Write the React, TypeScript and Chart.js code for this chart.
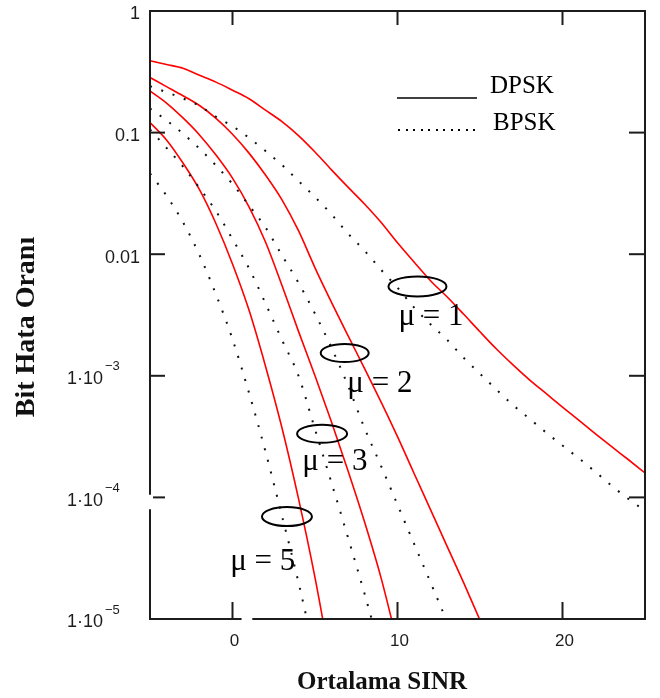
import React, { useEffect, useRef } from "react";
import { Chart, registerables } from "chart.js";

Chart.register(...registerables);

// ---- data ----
const sinr = [-5, -4, -3, -2, -1, 0, 1, 2, 3, 4, 5, 6, 7, 8, 9, 10, 11, 12, 13, 14, 15, 16, 17, 18, 19, 20, 21, 22, 23, 24, 25];

const dpskMu1 = [0.390, 0.363, 0.338, 0.296, 0.260, 0.223, 0.190, 0.153, 0.123, 0.0944, 0.0692, 0.0494, 0.0356, 0.0259, 0.0183, 0.0124, 8.63e-3, 6.05e-3, 4.47e-3, 3.22e-3, 2.30e-3, 1.66e-3, 1.23e-3, 9.27e-4, 7.16e-4, 5.53e-4, 4.29e-4, 3.33e-4, 2.60e-4, 2.04e-4, 1.59e-4];
const bpskMu1 = [0.241, 0.215, 0.191, 0.166, 0.135, 0.113, 0.0906, 0.0706, 0.0542, 0.0400, 0.0295, 0.0213, 0.0148, 0.0107, 7.45e-3, 5.30e-3, 3.65e-3, 2.65e-3, 1.98e-3, 1.41e-3, 1.04e-3, 7.69e-4, 5.75e-4, 4.44e-4, 3.42e-4, 2.67e-4, 2.09e-4, 1.62e-4, 1.24e-4, 9.70e-5, 7.76e-5];
const dpskMu2 = [0.284, 0.239, 0.201, 0.167, 0.131, 0.0970, 0.0678, 0.0448, 0.0280, 0.0156, 7.73e-3, 4.02e-3, 2.14e-3, 1.15e-3, 6.11e-4, 3.16e-4, 1.58e-4, 7.94e-5, 3.98e-5, 2.00e-5, 9.77e-6, 4.79e-6];
const bpskMu2 = [0.158, 0.126, 0.0980, 0.0738, 0.0536, 0.0378, 0.0252, 0.0166, 9.79e-3, 5.82e-3, 3.24e-3, 1.70e-3, 8.30e-4, 3.72e-4, 1.82e-4, 8.71e-5, 4.17e-5, 2.00e-5, 9.55e-6, 4.57e-6];
const dpskMu3 = [0.220, 0.175, 0.132, 0.0957, 0.0653, 0.0422, 0.0245, 0.0126, 5.53e-3, 2.32e-3, 1.00e-3, 4.17e-4, 1.66e-4, 6.31e-5, 2.19e-5, 6.31e-6];
const bpskMu3 = [0.106, 0.0750, 0.0526, 0.0350, 0.0226, 0.0133, 7.66e-3, 3.94e-3, 1.97e-3, 1.00e-3, 3.63e-4, 1.32e-4, 4.68e-5, 1.62e-5, 5.25e-6];
const dpskMu5 = [0.121, 0.0871, 0.0562, 0.0339, 0.0178, 8.32e-3, 3.47e-3, 1.20e-3, 3.72e-4, 9.77e-5, 2.19e-5, 3.98e-6];
const bpskMu5 = [0.0462, 0.0303, 0.0183, 9.84e-3, 4.66e-3, 2.00e-3, 7.24e-4, 2.38e-4, 7.03e-5, 2.00e-5, 5.01e-6];

const xTicks = [0, 10, 20];
const xTickLabels = ["0", "10", "20"];
const yTicks = [1, 0.1, 0.01, 1e-3, 1e-4, 1e-5];
const yTickBase = ["1", "0.1", "0.01", "1·10", "1·10", "1·10"];
const yTickExp = ["", "", "", "−3", "−4", "−5"];

const xTitle = "Ortalama SINR";
const yTitle = "Bit Hata Oranı";
const legendLabels = ["DPSK", "BPSK"];

// μ annotations, anchored in data coordinates
const muLabels = ["μ = 1", "μ = 2", "μ = 3", "μ = 5"];
const muLabelX = [10.06, 6.96, 4.23, -0.14];
const muLabelY = [2.64e-3, 7.41e-4, 1.69e-4, 2.53e-5];
const muRingX = [11.21, 6.8, 5.43, 3.3];
const muRingY = [5.43e-3, 1.54e-3, 3.34e-4, 6.96e-5];

// Mathcad-style gaps in the axis lines
const xAxisBreak = [0.55, 1.2];
const yAxisBreak = [1.05e-4, 8.0e-5];

const toPoints = (vals: number[]) => vals.map((v, i) => ({ x: sinr[i], y: v }));

const RED = "#ff0000";
const DOT = "#111111";
const INK = "#1c1c1c";

const mathcadPlugin = {
  id: "mathcadFrame",
  afterDatasetsDraw(chart: any) {
    const { ctx, chartArea: a } = chart;
    const xs = chart.scales.x;
    const ys = chart.scales.y;
    const seg = (x1: number, y1: number, x2: number, y2: number) => {
      ctx.beginPath();
      ctx.moveTo(x1, y1);
      ctx.lineTo(x2, y2);
      ctx.stroke();
    };
    ctx.save();
    // frame
    ctx.strokeStyle = INK;
    ctx.lineWidth = 2;
    ctx.lineCap = "butt";
    seg(a.left - 1, a.top, a.right + 1, a.top);
    seg(a.right, a.top, a.right, a.bottom + 1);
    const gx0 = xs.getPixelForValue(xAxisBreak[0]);
    const gx1 = xs.getPixelForValue(xAxisBreak[1]);
    seg(a.left - 1, a.bottom, gx0, a.bottom);
    seg(gx1, a.bottom, a.right + 1, a.bottom);
    const gy0 = ys.getPixelForValue(yAxisBreak[0]);
    const gy1 = ys.getPixelForValue(yAxisBreak[1]);
    seg(a.left, a.top, a.left, gy0);
    seg(a.left, gy1, a.left, a.bottom);

    // ticks (inward)
    xTicks.forEach((v) => {
      const px = xs.getPixelForValue(v);
      seg(px, a.bottom, px, a.bottom - 17);
      seg(px, a.top, px, a.top + 14);
    });
    yTicks.forEach((v) => {
      if (v >= ys.max || v <= ys.min) return;
      const py = ys.getPixelForValue(v);
      const inBreak = py > gy0 - 4 && py < gy1 + 4;
      seg(a.left + (inBreak ? 3 : 0), py, a.left + 15, py);
      seg(a.right, py, a.right - 16, py);
    });

    // tick labels
    ctx.fillStyle = INK;
    ctx.textBaseline = "middle";
    ctx.font = '17px "Liberation Sans", Arial, sans-serif';
    ctx.textAlign = "center";
    xTicks.forEach((v, i) => {
      ctx.fillText(xTickLabels[i], xs.getPixelForValue(v) + 2, a.bottom + 22);
    });
    yTicks.forEach((v, i) => {
      const py = ys.getPixelForValue(v);
      ctx.font = '18px "Liberation Sans", Arial, sans-serif';
      ctx.textAlign = "right";
      if (!yTickExp[i]) {
        ctx.fillText(yTickBase[i], a.left - 10, py + 3.5);
      } else {
        ctx.fillText(yTickBase[i], a.left - 47, py + 3.5);
        ctx.font = '13px "Liberation Sans", Arial, sans-serif';
        ctx.textAlign = "left";
        ctx.fillText(yTickExp[i], a.left - 45, py - 9);
      }
    });

    // axis titles
    ctx.fillStyle = "#111";
    ctx.textAlign = "center";
    ctx.textBaseline = "middle";
    ctx.font = 'bold 25px "Liberation Serif", "Times New Roman", serif';
    ctx.fillText(xTitle, a.left + 232, a.bottom + 64);
    ctx.save();
    ctx.translate(a.left - 123, (a.top + a.bottom) / 2 + 12);
    ctx.rotate(-Math.PI / 2);
    ctx.font = 'bold 28px "Liberation Serif", "Times New Roman", serif';
    ctx.fillText(yTitle, 0, 0);
    ctx.restore();

    // legend
    ctx.strokeStyle = "#000";
    ctx.lineWidth = 1.5;
    seg(a.left + 247, a.top + 87, a.left + 327, a.top + 87);
    ctx.fillStyle = "#000";
    for (let x = a.left + 249; x <= a.left + 325; x += 7.5) {
      ctx.fillRect(Math.round(x) - 1, a.top + 118, 2, 2);
    }
    ctx.font = '25px "Liberation Serif", "Times New Roman", serif';
    ctx.textAlign = "left";
    ctx.textBaseline = "alphabetic";
    ctx.fillText(legendLabels[0], a.left + 340, a.top + 82);
    ctx.fillText(legendLabels[1], a.left + 343, a.top + 119);

    // μ rings and labels
    ctx.strokeStyle = "#000";
    ctx.lineWidth = 2;
    const rx = [29, 24, 25, 25];
    const ry = [10, 9, 9, 9.5];
    muRingX.forEach((xv, i) => {
      const cx = xs.getPixelForValue(xv);
      const cy = ys.getPixelForValue(muRingY[i]);
      ctx.beginPath();
      ctx.ellipse(cx, cy, rx[i], ry[i], 0, 0, Math.PI * 2);
      ctx.stroke();
    });
    ctx.font = '31px "Liberation Serif", "Times New Roman", serif';
    ctx.fillStyle = "#000";
    muLabels.forEach((t, i) => {
      ctx.fillText(t, xs.getPixelForValue(muLabelX[i]), ys.getPixelForValue(muLabelY[i]));
    });
    ctx.restore();
  },
};

export default function App() {
  const ref = useRef<HTMLCanvasElement | null>(null);

  useEffect(() => {
    if (!ref.current) return;
    const solid = (label: string, vals: number[]) => ({
      label,
      data: toPoints(vals),
      borderColor: RED,
      borderWidth: 1.6,
      pointRadius: 0,
      fill: false,
      cubicInterpolationMode: "monotone" as const,
    });
    const dotted = (label: string, vals: number[]) => ({
      label,
      data: toPoints(vals),
      borderColor: DOT,
      borderWidth: 2,
      borderDash: [2, 10],
      borderCapStyle: "butt" as const,
      pointRadius: 0,
      fill: false,
      cubicInterpolationMode: "monotone" as const,
    });
    const chart = new Chart(ref.current, {
      type: "line",
      data: {
        datasets: [
          solid("DPSK μ=1", dpskMu1),
          dotted("BPSK μ=1", bpskMu1),
          solid("DPSK μ=2", dpskMu2),
          dotted("BPSK μ=2", bpskMu2),
          solid("DPSK μ=3", dpskMu3),
          dotted("BPSK μ=3", bpskMu3),
          solid("DPSK μ=5", dpskMu5),
          dotted("BPSK μ=5", bpskMu5),
        ] as any,
      },
      options: {
        responsive: false,
        animation: false,
        devicePixelRatio: 1,
        events: [],
        layout: { padding: { left: 150, right: 15, top: 11, bottom: 79 } },
        scales: {
          x: { type: "linear", min: -5, max: 25, display: false },
          y: { type: "logarithmic", min: 1e-5, max: 1, display: false },
        },
        plugins: {
          legend: { display: false },
          tooltip: { enabled: false },
        },
      },
      plugins: [mathcadPlugin],
    });
    return () => chart.destroy();
  }, []);

  return (
    <div style={{ position: "absolute", left: 0, top: 0, width: 660, height: 698, background: "#fff" }}>
      <canvas ref={ref} width={660} height={698} style={{ display: "block", width: 660, height: 698 }} />
    </div>
  );
}
